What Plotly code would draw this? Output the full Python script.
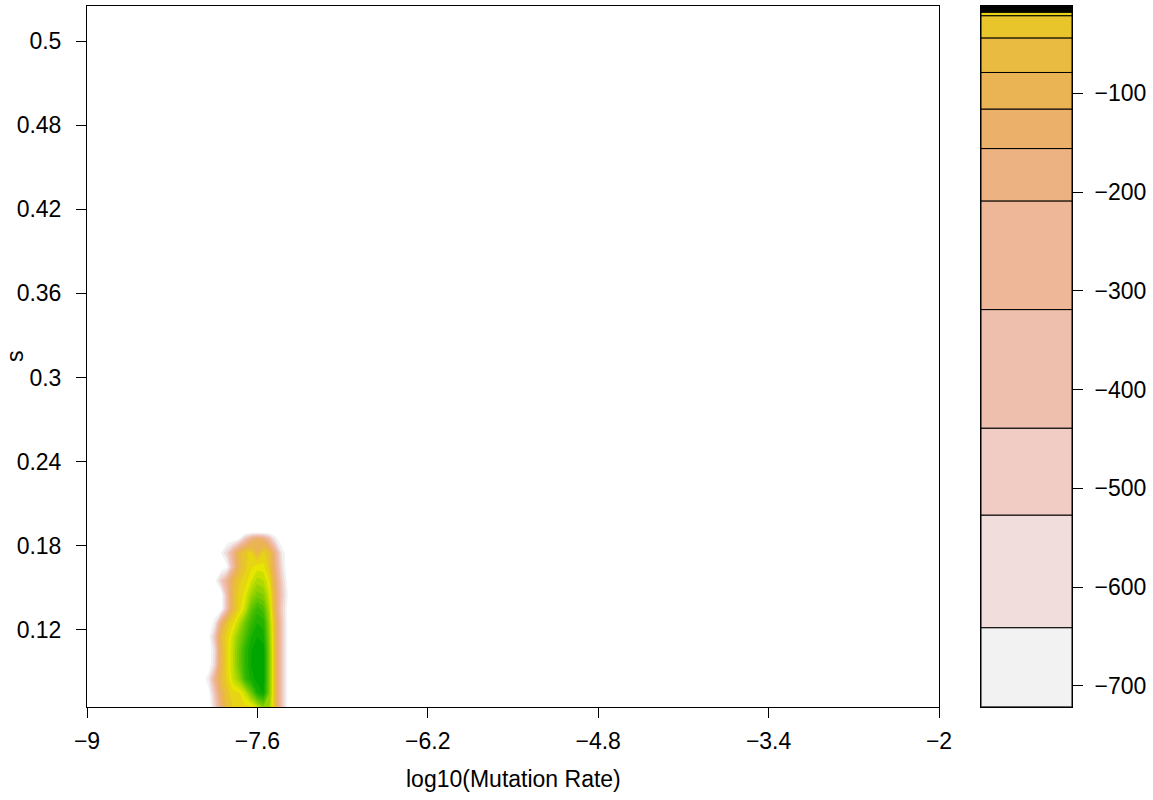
import colorsys
import numpy as np
import plotly.graph_objects as go

# ---------------- data ----------------
# log-likelihood surface: x = log10(mutation rate), y = s
x_grid = [-8.05, -8.00, -7.95, -7.90, -7.85, -7.80, -7.75, -7.70,
          -7.65, -7.60, -7.55, -7.50, -7.45, -7.40, -7.35, -7.30]
y_grid = [0.065, 0.075, 0.085, 0.095, 0.105, 0.115, 0.125, 0.135,
          0.145, 0.155, 0.165, 0.175, 0.185, 0.19]
loglik = [
    [-1000, -1000, -527, -156, -44, -21.5, -19.8, -18.7, -18.7, -17.1, -15.6, -16.2, -79, -439, -860, -1000],
    [-1000, -860, -439, -116, -32.8, -19.0, -18.4, -17.1, -15.0, -12.6, -12.0, -15.6, -79, -439, -860, -1000],
    [-1000, -641, -209, -61.5, -20.5, -17.1, -15.9, -13.5, -12.3, -11.7, -11.6, -15.6, -79, -439, -860, -1000],
    [-1000, -1000, -527, -79, -19.8, -16.8, -15.0, -13.2, -12.0, -11.6, -11.6, -15.6, -79, -439, -860, -1000],
    [-1000, -1000, -584, -79, -19.8, -16.8, -15.0, -13.2, -12.0, -11.6, -11.7, -15.6, -79, -439, -860, -1000],
    [-1000, -860, -439, -61.5, -19.8, -17.1, -15.6, -14.1, -12.6, -12.0, -12.3, -15.9, -79, -439, -860, -1000],
    [-1000, -1000, -681, -156, -32.8, -18.7, -16.8, -15.0, -13.5, -12.6, -12.9, -16.2, -79, -439, -860, -1000],
    [-1000, -1000, -1000, -1000, -379, -61.5, -19.8, -17.1, -14.7, -13.5, -14.1, -16.8, -116, -483, -860, -1000],
    [-1000, -1000, -1000, -1000, -379, -61.5, -20.5, -17.7, -16.2, -15.3, -15.6, -17.4, -116, -439, -721, -1000],
    [-1000, -1000, -860, -483, -209, -79, -26, -19.8, -17.4, -16.5, -16.8, -18.0, -136, -483, -860, -1000],
    [-1000, -1000, -1000, -1000, -805, -319, -79, -26, -18.7, -17.7, -17.8, -32.8, -182, -584, -1000, -1000],
    [-1000, -1000, -1000, -721, -527, -209, -61.5, -26, -20.5, -79, -20.5, -44, -209, -641, -1000, -1000],
    [-1000, -1000, -1000, -1000, -1000, -1000, -721, -439, -182, -116, -156, -379, -681, -1000, -1000, -1000],
    [-1000, -1000, -1000, -1000, -1000, -1000, -1000, -1000, -1000, -1000, -1000, -1000, -1000, -1000, -1000, -1000],
]
# contour levels (as shown in the key)
levels = [-721, -641, -527, -439, -319, -209, -156, -116, -79, -44, -21.5,
          -18.0, -17.4, -16.8, -16.2, -15.6, -15.0, -14.4, -13.8, -13.2,
          -12.6, -12.0, -11.4]
floor_value = -1000

x_tickvals = [-9, -7.6, -6.2, -4.8, -3.4, -2]
x_ticktext = ["\u22129", "\u22127.6", "\u22126.2", "\u22124.8", "\u22123.4", "\u22122"]
y_tickvals = [0.12, 0.18, 0.24, 0.30, 0.36, 0.42, 0.48, 0.54]
y_ticktext = ["0.12", "0.18", "0.24", "0.3", "0.36", "0.42", "0.48", "0.5"]
key_tickvals = [-700, -600, -500, -400, -300, -200, -100]
key_ticktext = ["\u2212700", "\u2212600", "\u2212500", "\u2212400", "\u2212300", "\u2212200", "\u2212100"]

# ---------------- palette (R terrain.colors, reversed) ----------------
def terrain_colors(n):
    k = n // 2
    h = list(np.linspace(4/12, 2/12, k)) + list(np.linspace(2/12, 0, n - k + 1)[1:])
    s = list(np.linspace(1, 1, k)) + list(np.linspace(1, 0, n - k + 1)[1:])
    v = list(np.linspace(0.65, 0.9, k)) + list(np.linspace(0.9, 0.95, n - k + 1)[1:])
    out = []
    for hh, ss, vv in zip(h, s, v):
        r, g, b = colorsys.hsv_to_rgb(hh, ss, vv)
        out.append("#%02X%02X%02X" % (int(r*255+0.5), int(g*255+0.5), int(b*255+0.5)))
    return out

nb = len(levels) - 1
band_colors = terrain_colors(nb)[::-1]   # lowest band first

# map values to level-index space so that irregular levels become unit steps
z_arr = np.array(loglik, dtype=float)
z_idx = np.interp(z_arr, [floor_value] + levels, [-1] + list(range(len(levels))))

nlev = len(levels)
cols = ["#FFFFFF"] + band_colors + [band_colors[-1]]
colorscale = [[m / nlev, c] for m, c in enumerate(cols)]

fig = go.Figure()
fig.add_trace(go.Contour(
    x=x_grid, y=y_grid, z=z_idx,
    contours=dict(start=0, end=nb, size=1, coloring="fill", showlines=False),
    line=dict(width=0, smoothing=0),
    colorscale=colorscale, showscale=False, hoverinfo="skip",
    xaxis="x", yaxis="y",
))

# key (colour legend) as stacked bands
bases = levels[:-1]
heights = [levels[i + 1] - levels[i] for i in range(nb)]
fig.add_trace(go.Bar(
    x=[0] * nb, y=heights, base=bases, width=1,
    marker=dict(color=band_colors, line=dict(color="black", width=1)),
    xaxis="x2", yaxis="y2", showlegend=False, hoverinfo="skip",
))

W, H = 1153, 800
px_l, px_r, py_t, py_b = 87, 939, 6, 707
k_l, k_r, k_t, k_b = 981, 1072, 5.7, 706.7
font = dict(family="Liberation Sans, Arial, Helvetica, sans-serif", size=23, color="black")

axis_common = dict(showgrid=False, zeroline=False, showline=True, linecolor="black",
                   linewidth=1, mirror=True, ticks="outside", ticklen=10,
                   tickcolor="black", tickwidth=1, tickfont=font, automargin=False)

fig.update_layout(
    width=W, height=H, margin=dict(l=0, r=0, t=0, b=0, autoexpand=False),
    paper_bgcolor="white", plot_bgcolor="white", showlegend=False,
    font=font,
    xaxis=dict(domain=[px_l / W, px_r / W], range=[-9, -2], anchor="y",
               tickvals=x_tickvals, ticktext=x_ticktext, ticklabelstandoff=3,
               **axis_common),
    yaxis=dict(domain=[1 - py_b / H, 1 - py_t / H], range=[0.065, 0.565], anchor="x",
               tickvals=y_tickvals, ticktext=y_ticktext, ticklabelstandoff=10,
               **axis_common),
    xaxis2=dict(domain=[k_l / W, k_r / W], range=[-0.5, 0.5], anchor="y2",
                showgrid=False, zeroline=False, showline=True, linecolor="black",
                mirror=True, showticklabels=False, ticks="", automargin=False),
    yaxis2=dict(domain=[1 - k_b / H, 1 - k_t / H], range=[levels[0], levels[-1]],
                anchor="x2", side="right", tickvals=key_tickvals, ticktext=key_ticktext,
                ticklabelstandoff=7, **axis_common),
    annotations=[
        dict(text="log10(Mutation Rate)", x=(px_l + px_r) / 2 / W, y=1 - 779 / H,
             xref="paper", yref="paper", showarrow=False, font=font,
             xanchor="center", yanchor="middle"),
        dict(text="s", x=15 / W, y=1 - 356 / H, xref="paper", yref="paper",
             showarrow=False, font=font, textangle=-90,
             xanchor="center", yanchor="middle"),
    ],
)

fig.write_html("out.html", config={"displayModeBar": False},
               post_script="document.body.style.margin='0px';document.body.style.padding='0px';")
